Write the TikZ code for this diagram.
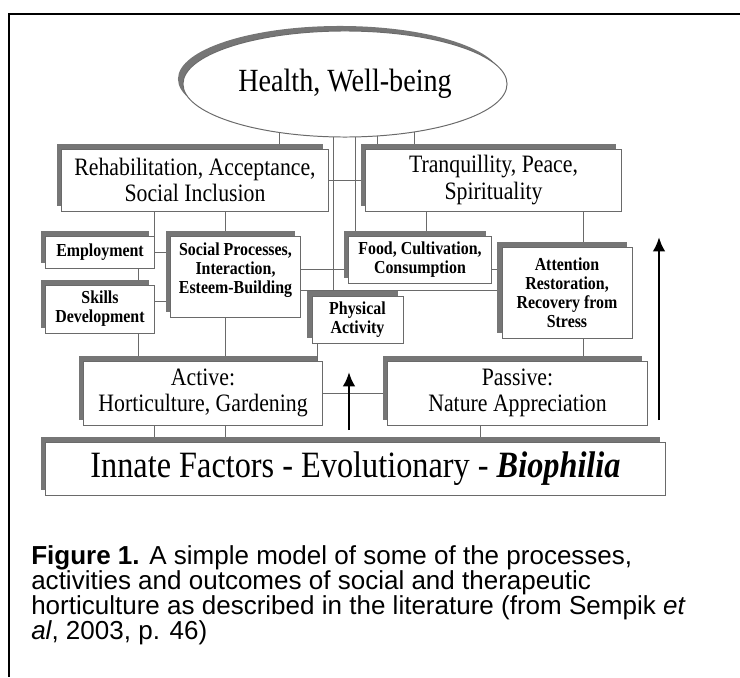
\documentclass[tikz,border=0pt]{standalone}
\usepackage{fontspec}
\setmainfont[FakeStretch=0.87]{Liberation Serif}
\newfontfamily\capfont{Liberation Sans}
\usepackage{tikz}
\usetikzlibrary{positioning, arrows.meta, calc, shapes.geometric, shadows, backgrounds}
\definecolor{linegray}{HTML}{6A6A6A}
\definecolor{shadegray}{HTML}{767676}

\begin{document}
\begin{tikzpicture}[x=0.025cm, y=-0.025cm,
  shade/.style={drop shadow={shadow xshift=-0.125cm, shadow yshift=0.125cm,
                fill=shadegray, opacity=1}},
  box/.style={draw=linegray, fill=white, line width=0.7pt, align=center, inner sep=1pt,
              shade, font=\fontsize{17.8}{19}\selectfont},
  bbox/.style={box, font=\bfseries\fontsize{13}{13.5}\selectfont},
  link/.style={draw=linegray, line width=0.7pt},
  arr/.style={-{Latex[length=0.36cm, width=0.32cm]}, line width=2.1pt}]
  \useasboundingbox (0,0) rectangle (740,677);
  \draw[line width=1.4pt] (740,14) -- (9,14) -- (9,677);
  % outcome
  \node[ellipse, draw=linegray, fill=white, line width=0.7pt, shade, inner sep=0pt,
        minimum width=8.1cm, minimum height=2.65cm, font=\fontsize{23}{26}\selectfont]
        (ell) at (345,84) {Health, Well-being};
  \node[box, minimum width=6.65cm, minimum height=1.55cm] (rehab) at (195,180)
        {Rehabilitation, Acceptance,\\Social Inclusion};
  \node[box, minimum width=6.375cm, minimum height=1.55cm] (tranq) at (493.5,180)
        {Tranquillity, Peace,\\Spirituality};
  % processes
  \node[bbox, minimum width=2.7cm, minimum height=0.8cm] (emp) at (100,252) {Employment};
  \node[bbox, minimum width=2.7cm, minimum height=1.2cm] (skills) at (100,309) {Skills\\Development};
  \node[bbox, minimum width=3.225cm, minimum height=2.025cm] (soc) at (235.5,276.5)
        {Social Processes,\\Interaction,\\Esteem-Building\\[-1pt]\mbox{}};
  \node[bbox, minimum width=3.55cm, minimum height=1.175cm] (food) at (420,259.5)
        {Food, Cultivation,\\Consumption};
  \node[bbox, minimum width=2.275cm, minimum height=1.175cm] (phys) at (357.5,319.5)
        {Physical\\Activity};
  \node[bbox, minimum width=3.25cm, minimum height=2.275cm] (attn) at (567,292.5)
        {Attention\\Restoration,\\Recovery from\\Stress};
  % activities
  \node[box, minimum width=5.95cm, minimum height=1.6cm] (active) at (203,393)
        {Active:\\Horticulture, Gardening};
  \node[box, minimum width=6.475cm, minimum height=1.6cm] (passive) at (517.5,393)
        {Passive:\\Nature Appreciation};
  \node[box, minimum width=15.475cm, minimum height=1.325cm, font=\fontsize{26.4}{30}\selectfont]
        (innate) at (355.5,468.5) {Innate Factors - Evolutionary - \textbf{\textit{Biophilia}}};
  % links
  \begin{scope}[on background layer]
    \draw[link] (279,0 |- ell) -- (279,0 |- rehab);
    \draw[link] (333,0 |- ell) -- (333,0 |- phys);
    \draw[link] (355,0 |- ell) -- (355,0 |- food);
    \draw[link] (377,0 |- ell) -- (377,0 |- tranq);
    \draw[link] (414,0 |- ell) -- (414,0 |- tranq);
    \draw[link] (rehab) -- (tranq);
    \draw[link] (154,0 |- rehab) -- (154,0 |- emp);
    \draw[link] (225,0 |- rehab) -- (225,0 |- soc);
    \draw[link] (emp) -- (emp -| soc);
    \draw[link] (skills.east |- 0,301) -- (soc.west |- 0,301);
    \draw[link] (138,0 |- emp) -- (138,0 |- skills);
    \draw[link] (138,0 |- skills) -- (138,0 |- active);
    \draw[link] (225,0 |- soc) -- (225,0 |- active);
    \draw[link] (317,0 |- phys) -- (317,0 |- active);
    \draw[link] (soc.east |- 0,269) -- (attn.west |- 0,269);
    \draw[link] (soc.east |- 0,290) -- (attn.west |- 0,290);
    \draw[link] (426,0 |- tranq) -- (426,0 |- food);
    \draw[link] (583,0 |- tranq) -- (583,0 |- attn);
    \draw[link] (583,0 |- attn) -- (583,0 |- passive);
    \draw[link] (active) -- (passive);
    \draw[link] (154,0 |- active) -- (154,0 |- innate);
    \draw[link] (225,0 |- active) -- (225,0 |- innate);
    \draw[link] (480,0 |- passive) -- (480,0 |- innate);
  \end{scope}
  % upward arrows
  \coordinate (lowA) at (349,430);
  \coordinate (topA) at (349,372);
  \coordinate (lowB) at (659,420);
  \coordinate (topB) at (659,237);
  \draw[arr] (lowA) -- (topA);
  \draw[arr] (lowB) -- (topB);
  % caption
  \node[anchor=north west, align=left, inner sep=0pt, font=\capfont\fontsize{18.5}{17.8}\selectfont]
        (cap) at (31,545)
        {\textbf{Figure 1.} A simple model of some of the processes,\\
         activities and outcomes of social and therapeutic\\
         horticulture as described in the literature (from Sempik \textit{et}\\
         \textit{al}, 2003, p. 46)};
\end{tikzpicture}
\end{document}
